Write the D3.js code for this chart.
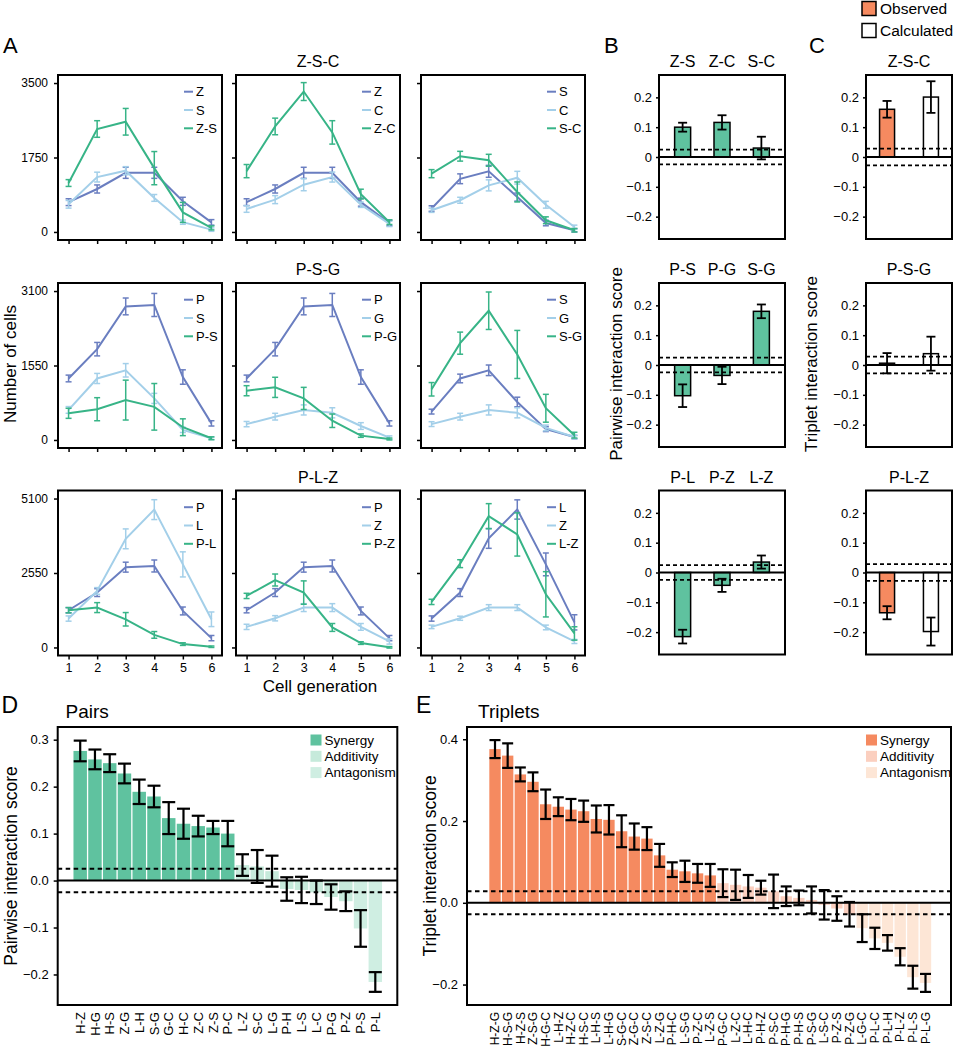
<!DOCTYPE html>
<html><head><meta charset="utf-8">
<script src="https://cdn.jsdelivr.net/npm/d3@7"></script>
<style>body{margin:0;background:#fff} svg{display:block}</style>
</head><body><svg id="c" width="960" height="1050"></svg>
<script>
// ---------------- DATA ----------------
const gens = [1,2,3,4,5,6];
const aRowTitles = ["Z-S-C","P-S-G","P-L-Z"];
const aTicksZSC = [0,1750,3500];
const aTicksPSG = [0,1550,3100];
const aTicksPLZ = [0,2550,5100];

const zs_names=["Z","S","Z-S"];
const zs_mean=[[700,1010,1390,1390,720,225],[650,1290,1440,800,230,55],[1150,2420,2590,1500,460,95]];
const zs_err=[[80,95,130,130,95,65],[90,115,95,80,50,40],[80,195,313,390,235,47]];
const zc_names=["Z","C","Z-C"];
const zc_mean=[[700,1010,1390,1390,700,210],[540,760,1110,1290,640,190],[1430,2480,3300,2340,890,230]];
const zc_err=[[80,95,130,130,95,65],[78,94,141,117,63,63],[155,195,210,275,115,55]];
const sc_names=["S","C","S-C"];
const sc_mean=[[550,1250,1425,820,210,40],[510,745,1095,1275,640,115],[1370,1780,1685,940,275,40]];
const sc_err=[[65,115,140,95,65,40],[50,70,130,150,80,45],[95,115,140,235,80,40]];
const ps_names=["P","S","P-S"];
const ps_mean=[[1280,1890,2780,2810,1310,345],[625,1280,1450,865,210,35],[555,640,830,690,265,35]];
const ps_err=[[70,140,175,240,150,55],[70,105,140,105,55,25],[105,240,415,485,175,30]];
const pg_names=["P","G","P-G"];
const pg_mean=[[1280,1890,2780,2810,1310,345],[330,485,625,565,290,50],[1025,1095,865,400,90,20]];
const pg_err=[[70,140,175,240,150,55],[55,70,105,105,70,35],[105,210,230,140,35,20]];
const sg_names=["S","G","S-G"];
const sg_mean=[[590,1280,1450,790,225,60],[330,485,625,565,250,60],[1055,2015,2690,1780,660,100]];
const sg_err=[[50,90,110,100,50,35],[50,70,105,105,60,35],[140,230,390,500,290,60]];
const pl_names=["P","L","P-L"];
const pl_mean=[[1275,1880,2750,2790,1250,320],[990,1935,3720,4720,2845,965],[1275,1365,965,430,115,25]];
const pl_err=[[90,135,170,205,135,90],[90,115,340,340,430,250],[90,170,230,115,45,25]];
const pz_names=["P","Z","P-Z"];
const pz_mean=[[1275,1880,2750,2790,1250,320],[705,1000,1365,1365,705,205],[1765,2310,1880,685,150,5]];
const pz_err=[[90,135,170,205,135,90],[90,90,135,135,115,90],[90,205,400,135,45,25]];
const lz_names=["L","Z","L-Z"];
const lz_mean=[[990,1880,3735,4725,2845,860],[705,1000,1365,1365,685,205],[1560,2870,4495,3870,1820,480]];
const lz_err=[[90,135,340,330,390,260],[60,70,100,100,80,70],[90,135,430,740,775,230]];

// Panel B (pairwise scores)
const bTicks = [-0.2,-0.1,0,0.1,0.2];
const b1_labels=["Z-S","Z-C","S-C"], b1_mean=[0.100,0.116,0.030], b1_err=[0.015,0.024,0.038];
const b2_labels=["P-S","P-G","S-G"], b2_mean=[-0.103,-0.035,0.180], b2_err=[0.038,0.029,0.023];
const b3_labels=["P-L","P-Z","L-Z"], b3_mean=[-0.215,-0.043,0.035], b3_err=[0.023,0.022,0.022];
// Panel C (triplet scores: observed, calculated)
const cKinds=["Observed","Calculated"];
const c1_mean=[0.160,0.201], c1_err=[0.028,0.053];
const c2_mean=[0.006,0.038], c2_err=[0.034,0.057];
const c3_mean=[-0.135,-0.198], c3_err=[0.022,0.047];

// Panel D (pairs)
const dTicks=[-0.2,-0.1,0,0.1,0.2,0.3];
const pairNames=["H-Z","H-G","H-S","Z-G","L-H","S-G","G-C","H-C","Z-C","Z-S","P-C","L-Z","S-C","L-G","P-H","L-S","L-C","P-G","P-Z","P-S","P-L"];
const pairMean=[0.276,0.258,0.250,0.228,0.189,0.179,0.133,0.121,0.116,0.113,0.100,0.033,0.030,0.020,-0.018,-0.020,-0.025,-0.035,-0.044,-0.102,-0.216];
const pairErr=[0.022,0.021,0.019,0.021,0.026,0.023,0.034,0.032,0.022,0.014,0.027,0.023,0.035,0.033,0.025,0.028,0.025,0.027,0.021,0.039,0.021];
const pairClass=["Synergy","Synergy","Synergy","Synergy","Synergy","Synergy","Synergy","Synergy","Synergy","Synergy","Synergy","Additivity","Additivity","Additivity","Additivity","Additivity","Additivity","Additivity","Additivity","Antagonism","Antagonism"];

// Panel E (triplets)
const eTicks=[-0.2,0,0.2,0.4];
const tripNames=["H-Z-G","H-S-G","H-Z-S","Z-S-G","H-G-C","L-H-Z","H-Z-C","H-S-C","L-H-S","L-H-G","S-G-C","Z-G-C","Z-S-C","L-Z-G","P-H-C","L-S-G","P-Z-C","L-Z-S","P-G-C","L-Z-C","L-H-C","P-H-Z","P-S-C","P-H-G","P-H-S","P-S-G","L-S-C","P-Z-S","P-Z-G","L-G-C","P-L-C","P-L-H","P-L-Z","P-L-S","P-L-G"];
const tripMean=[0.376,0.360,0.314,0.296,0.241,0.235,0.228,0.224,0.205,0.203,0.175,0.162,0.157,0.116,0.081,0.077,0.072,0.067,0.048,0.044,0.040,0.037,0.028,0.016,0.012,0.007,-0.005,-0.014,-0.028,-0.062,-0.087,-0.098,-0.132,-0.182,-0.196];
const tripErr=[0.022,0.030,0.017,0.023,0.036,0.023,0.026,0.026,0.033,0.036,0.039,0.032,0.028,0.028,0.018,0.026,0.023,0.028,0.034,0.037,0.028,0.017,0.041,0.024,0.018,0.033,0.036,0.030,0.030,0.034,0.026,0.019,0.021,0.028,0.022];
const tripClass=tripNames.map((n,i)=> i<18?"Synergy":(i<29?"Additivity":"Antagonism"));
const classNames=["Synergy","Additivity","Antagonism"];

// ---------------- STYLE ----------------
const FF='"Liberation Sans", Arial, Helvetica, sans-serif';
const lineColors=["#6a7ec0","#a3cfe9","#37b487"];
const greenFill="#5fc29f", orangeFill="#f68a60";
const dColors={"Synergy":"#5fc29f","Additivity":"#c6eadb","Antagonism":"#cfeee2"};
const eColors={"Synergy":"#f58a60","Additivity":"#fbcfbf","Antagonism":"#fde6d6"};

const svg=d3.select("#c");
function txt(g,x,y,s,size,anchor){
  return g.append("text").attr("x",x).attr("y",y).text(s).attr("font-size",size)
    .attr("font-family",FF).attr("fill","#000").attr("text-anchor",anchor||"start");
}
function styleAxis(a,size){
  a.select(".domain").remove();
  a.selectAll("line").attr("stroke","#000").attr("stroke-width",1.5);
  a.selectAll("text").attr("font-size",size).attr("fill","#000").attr("font-family",FF);
}
function box(g,x,y,w,h){
  g.append("rect").attr("x",x).attr("y",y).attr("width",w).attr("height",h)
   .attr("fill","none").attr("stroke","#000").attr("stroke-width",2);
}

// ---------------- PANEL A ----------------
const aColX=[58,236,421], aW=164, rowTop=[75,283,490.5], aH=165;
function linePlot(x0,y0,ticks,names,mean,err,showY,showX){
  const g=svg.append("g");
  const yMax=ticks[ticks.length-1];
  const x=d3.scaleLinear().domain([0.63,6.37]).range([x0,x0+aW]);
  const y=d3.scaleLinear().domain([-0.054*yMax,1.054*yMax]).range([y0+aH,y0]);
  const ya=g.append("g").attr("transform",`translate(${x0},0)`)
    .call(d3.axisLeft(y).tickValues(ticks).tickSize(4).tickPadding(6).tickFormat(showY?d3.format("d"):""));
  const xa=g.append("g").attr("transform",`translate(0,${y0+aH})`)
    .call(d3.axisBottom(x).tickValues(gens).tickSize(4).tickPadding(4).tickFormat(showX?d3.format("d"):""));
  styleAxis(ya,12); styleAxis(xa,12.5);
  mean.forEach((m,i)=>{
    const c=lineColors[i];
    const pts=gens.map((gg,j)=>({x:gg,m:m[j],e:err[i][j]}));
    const eg=g.append("g").attr("stroke",c).attr("stroke-width",1.5);
    eg.selectAll("line.v").data(pts).join("line").attr("x1",d=>x(d.x)).attr("x2",d=>x(d.x))
      .attr("y1",d=>y(d.m-d.e)).attr("y2",d=>y(d.m+d.e));
    eg.selectAll("line.t").data(pts).join("line").attr("x1",d=>x(d.x)-3).attr("x2",d=>x(d.x)+3)
      .attr("y1",d=>y(d.m+d.e)).attr("y2",d=>y(d.m+d.e));
    eg.selectAll("line.b").data(pts).join("line").attr("x1",d=>x(d.x)-3).attr("x2",d=>x(d.x)+3)
      .attr("y1",d=>y(d.m-d.e)).attr("y2",d=>y(d.m-d.e));
    g.append("path").datum(pts).attr("d",d3.line().x(d=>x(d.x)).y(d=>y(d.m)))
      .attr("fill","none").attr("stroke",c).attr("stroke-width",2);
  });
  box(g,x0,y0,aW,aH);
  names.forEach((n,i)=>{
    const ly=y0+16.7+i*18.3;
    g.append("line").attr("x1",x0+aW-38).attr("x2",x0+aW-29).attr("y1",ly).attr("y2",ly)
      .attr("stroke",lineColors[i]).attr("stroke-width",2);
    txt(g,x0+aW-26,ly,n,13).attr("dy","0.35em");
  });
}
const aPlots=[
  [[zs_names,zs_mean,zs_err],[zc_names,zc_mean,zc_err],[sc_names,sc_mean,sc_err]],
  [[ps_names,ps_mean,ps_err],[pg_names,pg_mean,pg_err],[sg_names,sg_mean,sg_err]],
  [[pl_names,pl_mean,pl_err],[pz_names,pz_mean,pz_err],[lz_names,lz_mean,lz_err]]];
const aTicks=[aTicksZSC,aTicksPSG,aTicksPLZ];
aPlots.forEach((row,r)=>{
  row.forEach((p,c)=>linePlot(aColX[c],rowTop[r],aTicks[r],p[0],p[1],p[2],c===0,r===2));
  txt(svg,aColX[1]+aW/2,rowTop[r]-8,aRowTitles[r],16,"middle");
});
txt(svg,0,0,"Number of cells",17,"middle").attr("transform","translate(16,364) rotate(-90)");
txt(svg,320,692,"Cell generation",17,"middle");
txt(svg,3,53,"A",22);

// ---------------- PANELS B & C ----------------
function scorePanel(x0,y0,w,h,labels,mean,err,fills,pad,bw,dash,titles){
  const g=svg.append("g");
  const y=d3.scaleLinear().domain([-0.275,0.275]).range([y0+h,y0]);
  const x=d3.scalePoint().domain(labels).range([x0,x0+w]).padding(pad);
  const ya=g.append("g").attr("transform",`translate(${x0},0)`)
    .call(d3.axisLeft(y).tickValues(bTicks).tickSize(3).tickPadding(4).tickFormat(d=>d===0?"0":d3.format(".1f")(d)));
  styleAxis(ya,13);
  labels.forEach((l,i)=>{
    const v=mean[i];
    g.append("rect").attr("x",x(l)-bw/2).attr("width",bw)
      .attr("y",Math.min(y(0),y(v))).attr("height",Math.abs(y(v)-y(0)))
      .attr("fill",fills[i]).attr("stroke","#000").attr("stroke-width",1.5);
  });
  dash.forEach(d=>g.append("line").attr("x1",x0).attr("x2",x0+w).attr("y1",y(d)).attr("y2",y(d))
    .attr("stroke","#000").attr("stroke-width",1.8).attr("stroke-dasharray","4,3"));
  g.append("line").attr("x1",x0).attr("x2",x0+w).attr("y1",y(0)).attr("y2",y(0)).attr("stroke","#000").attr("stroke-width",1.8);
  labels.forEach((l,i)=>{
    const cx=x(l), hi=y(mean[i]+err[i]), lo=y(mean[i]-err[i]);
    const eg=g.append("g").attr("stroke","#000").attr("stroke-width",1.8);
    eg.append("line").attr("x1",cx).attr("x2",cx).attr("y1",hi).attr("y2",lo);
    eg.append("line").attr("x1",cx-4.5).attr("x2",cx+4.5).attr("y1",hi).attr("y2",hi);
    eg.append("line").attr("x1",cx-4.5).attr("x2",cx+4.5).attr("y1",lo).attr("y2",lo);
  });
  box(g,x0,y0,w,h);
  if(titles) labels.forEach(l=>txt(g,x(l),y0-8,l,16,"middle"));
  return g;
}
const bX=659, bW=126, cX=866, cW=86, sH=164;
const bRows=[[b1_labels,b1_mean,b1_err],[b2_labels,b2_mean,b2_err],[b3_labels,b3_mean,b3_err]];
bRows.forEach((r,i)=>scorePanel(bX,rowTop[i],bW,sH,r[0],r[1],r[2],[greenFill,greenFill,greenFill],0.6,16,[0.025,-0.025],true));
const cRows=[[c1_mean,c1_err],[c2_mean,c2_err],[c3_mean,c3_err]];
cRows.forEach((r,i)=>{
  scorePanel(cX,rowTop[i],cW,sH,cKinds,r[0],r[1],[orangeFill,"#fff"],0.48,15,[0.028,-0.028],false);
  txt(svg,cX+cW/2,rowTop[i]-8,aRowTitles[i],16,"middle");
});
txt(svg,0,0,"Pairwise interaction score",17,"middle").attr("transform","translate(622,364) rotate(-90)");
txt(svg,0,0,"Triplet interaction score",17,"middle").attr("transform","translate(817,364) rotate(-90)");
txt(svg,604,53,"B",22);
txt(svg,809,53,"C",22);
cKinds.forEach((k,i)=>{
  svg.append("rect").attr("x",862).attr("y",1.5+i*22).attr("width",14).attr("height",14)
    .attr("fill",i===0?orangeFill:"#fff").attr("stroke","#000").attr("stroke-width",1.5);
  txt(svg,880,8.5+i*22,k,15.5).attr("dy","0.35em");
});

// ---------------- PANELS D & E ----------------
function rankPanel(x0,y0,w,h,domain,ticks,names,mean,err,cls,cmap,padL,padR,capW,labFont,dash,legX,title,titleX,letter,letterX){
  const g=svg.append("g");
  const y=d3.scaleLinear().domain(domain).range([y0+h,y0]);
  const x=d3.scalePoint().domain(names).range([x0+padL,x0+w-padR]).padding(0);
  const step=x.step(), bw=step-1.3;
  const ya=g.append("g").attr("transform",`translate(${x0},0)`)
    .call(d3.axisLeft(y).tickValues(ticks).tickSize(4).tickPadding(5).tickFormat(d3.format(".1f")));
  styleAxis(ya,13);
  names.forEach((n,i)=>{
    const v=mean[i];
    g.append("rect").attr("x",x(n)-bw/2).attr("width",bw)
      .attr("y",Math.min(y(0),y(v))).attr("height",Math.abs(y(v)-y(0))).attr("fill",cmap[cls[i]]);
  });
  dash.forEach(d=>g.append("line").attr("x1",x0).attr("x2",x0+w).attr("y1",y(d)).attr("y2",y(d))
    .attr("stroke","#000").attr("stroke-width",2).attr("stroke-dasharray","4.5,3.5"));
  g.append("line").attr("x1",x0).attr("x2",x0+w).attr("y1",y(0)).attr("y2",y(0)).attr("stroke","#000").attr("stroke-width",2);
  names.forEach((n,i)=>{
    const cx=x(n), hi=y(mean[i]+err[i]), lo=y(mean[i]-err[i]);
    const eg=g.append("g").attr("stroke","#000").attr("stroke-width",2.2);
    eg.append("line").attr("x1",cx).attr("x2",cx).attr("y1",hi).attr("y2",lo);
    eg.append("line").attr("x1",cx-capW/2).attr("x2",cx+capW/2).attr("y1",hi).attr("y2",hi);
    eg.append("line").attr("x1",cx-capW/2).attr("x2",cx+capW/2).attr("y1",lo).attr("y2",lo);
  });
  box(g,x0,y0,w,h);
  names.forEach(n=>{
    txt(g,0,0,n,labFont,"end").attr("dy","0.35em")
      .attr("transform",`translate(${x(n)},${y0+h+7}) rotate(-90)`);
  });
  classNames.forEach((c,i)=>{
    const ly=y0+13+i*16.3;
    g.append("rect").attr("x",legX).attr("y",ly-5.5).attr("width",11).attr("height",11).attr("fill",cmap[c]);
    txt(g,legX+14,ly,c,13.5).attr("dy","0.35em");
  });
  txt(svg,titleX,718,title,19);
  txt(svg,letterX,713,letter,23);
}
rankPanel(57.7,727,339.6,278,[-0.265,0.327],dTicks,pairNames,pairMean,pairErr,pairClass,dColors,22.5,22,13,13,[0.025,-0.025],310.5,"Pairs",65.5,"D",1.5);
rankPanel(467,727,484,278,[-0.25,0.43],eTicks,tripNames,tripMean,tripErr,tripClass,eColors,28,25.5,11,12,[0.028,-0.028],866,"Triplets",478,"E",416);
txt(svg,0,0,"Pairwise interaction score",17.5,"middle").attr("transform","translate(17,866) rotate(-90)");
txt(svg,0,0,"Triplet interaction score",17.5,"middle").attr("transform","translate(436,866) rotate(-90)");
</script></body></html>
